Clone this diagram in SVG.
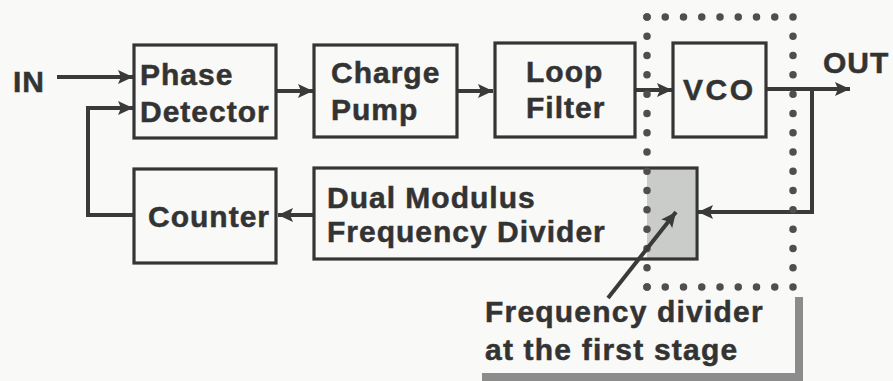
<svg xmlns="http://www.w3.org/2000/svg" width="893" height="381" viewBox="0 0 893 381">
<defs>
<marker id="ah" markerUnits="userSpaceOnUse" markerWidth="16" markerHeight="14" refX="15" refY="7" orient="auto">
<path d="M0,0 L15,7 L0,14 L3,7 z" fill="#3a3a3a"/>
</marker>
</defs>
<style>
.box{fill:none;stroke:#353535;stroke-width:3.2}
.t{font-family:"Liberation Sans",Arial,sans-serif;font-weight:bold;font-size:30px;fill:#333;stroke:#333;stroke-width:0.5;letter-spacing:1px}
.w{fill:none;stroke:#3a3a3a;stroke-width:4}
.dot{fill:none;stroke:#4f4f4f;stroke-width:7.5;stroke-linecap:round}
</style>
<rect width="893" height="381" fill="#f9f9f7"/>
<rect x="647" y="169" width="48" height="89" fill="#c9ccc8"/>
<g id="connectors">
<path class="w" d="M57,77 H133" marker-end="url(#ah)"/>
<path class="w" d="M134,215 H88 V108 H133" marker-end="url(#ah)"/>
<path class="w" d="M277,91 H313" marker-end="url(#ah)"/>
<path class="w" d="M457,91 H493" marker-end="url(#ah)"/>
<path class="w" d="M635,90 H672" marker-end="url(#ah)"/>
<path class="w" d="M766,89 H850" marker-end="url(#ah)"/>
<path class="w" d="M812,89 V212 H698" marker-end="url(#ah)"/>
<path class="w" d="M314,215 H278" marker-end="url(#ah)"/>
</g>
<g id="in"><text class="t" x="13" y="92">IN</text></g>
<g id="out"><text class="t" x="823" y="73">OUT</text></g>
<g id="phase-detector">
<rect class="box" x="134" y="45" width="142" height="93"/>
<text class="t" x="140" y="85">Phase</text>
<text class="t" x="140" y="122">Detector</text>
</g>
<g id="charge-pump">
<rect class="box" x="314" y="45" width="143" height="92"/>
<text class="t" x="331" y="83">Charge</text>
<text class="t" x="331" y="120">Pump</text>
</g>
<g id="loop-filter">
<rect class="box" x="495" y="43" width="140" height="94"/>
<text class="t" x="526" y="82">Loop</text>
<text class="t" x="526" y="118">Filter</text>
</g>
<g id="vco">
<rect class="box" x="673" y="43" width="93" height="94"/>
<text class="t" x="683" y="100" style="letter-spacing:2.5px">VCO</text>
</g>
<g id="counter">
<rect class="box" x="134" y="169" width="142" height="94"/>
<text class="t" x="148" y="227">Counter</text>
</g>
<g id="dual-modulus">
<rect class="box" x="314" y="168" width="383" height="91"/>
<text class="t" x="327" y="208">Dual Modulus</text>
<text class="t" x="327" y="242">Frequency Divider</text>
</g>
<g id="first-stage-region">
<line class="dot" x1="647" y1="17" x2="647" y2="287" stroke-dasharray="0 19.2857"/>
<line class="dot" x1="793" y1="17" x2="793" y2="287" stroke-dasharray="0 19.2857"/>
<line class="dot" x1="647" y1="17" x2="793" y2="17" stroke-dasharray="0 18.25"/>
<line class="dot" x1="647" y1="287" x2="793" y2="287" stroke-dasharray="0 18.25"/>
</g>
<g id="callout">
<rect x="795" y="297" width="8" height="84" fill="#8c8c8c"/>
<rect x="482" y="373" width="321" height="8" fill="#8c8c8c"/>
<path class="w" d="M608,298 L676,212" marker-end="url(#ah)"/>
<text class="t" x="485" y="322" style="letter-spacing:1.2px">Frequency divider</text>
<text class="t" x="485" y="360" style="letter-spacing:1.2px">at the first stage</text>
</g>
</svg>
